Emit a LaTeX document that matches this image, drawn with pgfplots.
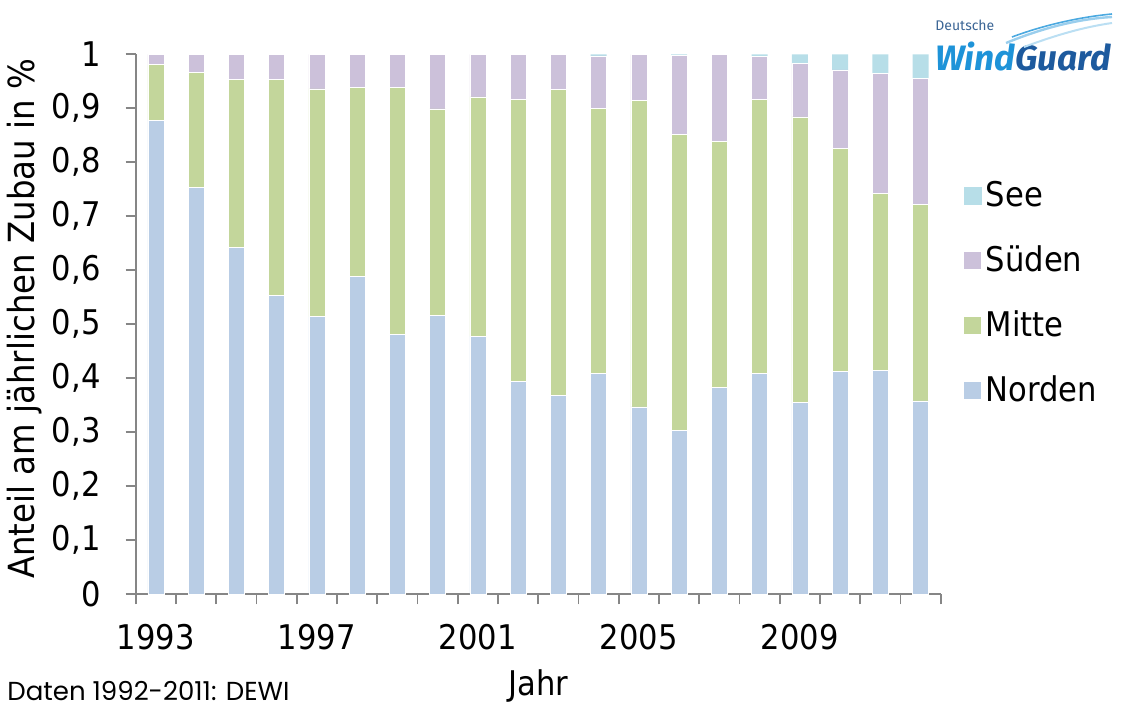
\documentclass[border=0pt]{standalone}
\usepackage{fontspec}
\setmainfont{DejaVu Sans}[FakeStretch=0.9]
\newfontfamily\notefont{Poppins}
\newfontfamily\logofont{Fira Sans}
\usepackage{graphicx}
\usepackage{pgfplots}
\usepackage{pgfplotstable}
\pgfplotsset{compat=1.18}

\definecolor{norden}{HTML}{B9CDE5}
\definecolor{mitte}{HTML}{C3D69B}
\definecolor{sueden}{HTML}{CCC1DA}
\definecolor{see}{HTML}{B7DEE8}
\definecolor{axisgray}{HTML}{868686}
\definecolor{windblue}{HTML}{1E93D8}
\definecolor{guardblue}{HTML}{1D5A9E}

% Anteil am jaehrlichen Zubau, 1993-2012 (Index 0..19)
\pgfplotstableread{
idx norden mitte  sueden see
0   0.878  0.103  0.019  0
1   0.754  0.213  0.033  0
2   0.642  0.312  0.046  0
3   0.553  0.401  0.046  0
4   0.514  0.422  0.064  0
5   0.589  0.350  0.061  0
6   0.481  0.458  0.061  0
7   0.517  0.382  0.101  0
8   0.478  0.443  0.079  0
9   0.394  0.522  0.084  0
10  0.369  0.566  0.065  0
11  0.409  0.491  0.097  0.003
12  0.347  0.567  0.086  0
13  0.304  0.548  0.146  0.002
14  0.383  0.456  0.161  0
15  0.409  0.508  0.079  0.004
16  0.356  0.528  0.099  0.017
17  0.413  0.413  0.145  0.029
18  0.415  0.328  0.221  0.036
19  0.358  0.364  0.233  0.045
}\zubau

\begin{document}
\begin{tikzpicture}
\useasboundingbox (0,0) rectangle (567.5pt,354.5pt);
\begin{axis}[
  at={(67.85pt,57.35pt)}, anchor=south west,
  scale only axis, width=402.5pt, height=270pt,
  ybar stacked, bar width=8pt,
  xmin=-0.5, xmax=19.5, ymin=0, ymax=1,
  axis x line*=bottom, axis y line*=left,
  axis line style={axisgray, line width=0.9pt, -},
  tick style={axisgray, line width=0.9pt},
  tick align=outside, major tick length=5pt,
  xtick={-0.5,0.5,...,19.5}, xticklabels={},
  extra x ticks={0,4,8,12,16},
  extra x tick labels={1993,1997,2001,2005,2009},
  extra x tick style={major tick length=0pt},
  xticklabel style={font=\fontsize{17}{20}\selectfont, text=black, yshift=-11.5pt},
  ytick={0,0.1,0.2,0.3,0.4,0.5,0.6,0.7,0.8,0.9,1},
  yticklabel style={font=\fontsize{17}{20}\selectfont, text=black, xshift=-9pt,
    /pgf/number format/.cd, use comma, fixed, precision=1, assume math mode=true},
  xlabel={Jahr},
  xlabel style={font=\fontsize{17}{20}\selectfont, at={(axis description cs:0.5,-0.1865)}, anchor=base},
  ylabel={Anteil am jährlichen Zubau in \%},
  ylabel style={font=\fontsize{18}{21}\selectfont, at={(axis description cs:-0.1375,0.51)}, anchor=center},
  legend style={draw=none, fill=none, at={(1.02,0.78)}, anchor=north west,
    font=\fontsize{17}{20}\selectfont, row sep=14pt},
  legend cell align=left,
  reverse legend,
  legend image code/.code={\fill[#1] (0pt,-4.5pt) rectangle (9pt,4.5pt);},
]
\addplot[fill=norden, draw=white, line width=0.3pt] table[x=idx, y=norden] {\zubau};
\addplot[fill=mitte,  draw=white, line width=0.3pt] table[x=idx, y=mitte]  {\zubau};
\addplot[fill=sueden, draw=white, line width=0.3pt] table[x=idx, y=sueden] {\zubau};
\addplot[fill=see,    draw=none] table[x=idx, y=see]    {\zubau};
\legend{Norden, Mitte, Süden, See}
\end{axis}

% Quellenangabe
\node[anchor=base west, inner sep=0pt] at (3.5pt,4.5pt)
  {\resizebox{141pt}{!}{\notefont Daten 1992-2011: DEWI}};

% Logo
\node[anchor=base west, inner sep=0pt, text=guardblue!70!gray] at (467.5pt,339.5pt)
  {\logofont\fontsize{7}{8}\selectfont Deutsche};
\node[anchor=base west, inner sep=0pt] at (467.5pt,319.5pt)
  {\resizebox{88pt}{!}{\logofont\bfseries\itshape\textcolor{windblue}{Wind}\textcolor{guardblue}{Guard}}};
\draw[windblue!45, line width=1.2pt] (503pt,333pt) .. controls (520pt,340pt) and (538pt,345pt) .. (556pt,346pt);
\draw[windblue!80, line width=0.8pt] (506pt,336pt) .. controls (522pt,342pt) and (540pt,346pt) .. (556pt,347.5pt);
\draw[windblue!30, line width=1pt] (512pt,331pt) .. controls (528pt,337pt) and (542pt,341pt) .. (556pt,343pt);
\end{tikzpicture}
\end{document}
